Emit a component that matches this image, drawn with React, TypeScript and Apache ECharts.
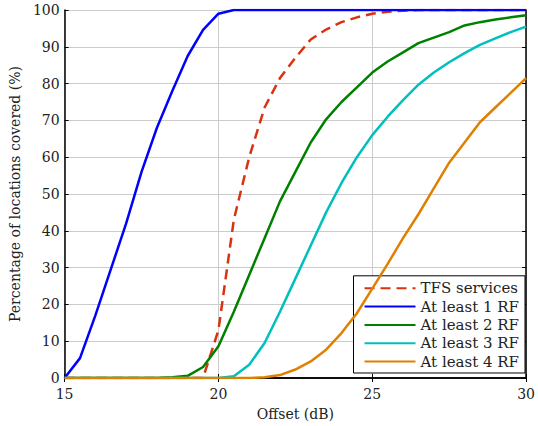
import React, { useEffect, useRef } from "react";
import * as echarts from "echarts";

const offsets = [15, 15.5, 16, 16.5, 17, 17.5, 18, 18.5, 19, 19.5, 20, 20.5, 21, 21.5, 22, 22.5, 23, 23.5, 24, 24.5, 25, 25.5, 26, 26.5, 27, 27.5, 28, 28.5, 29, 29.5, 30];

const tfsServices = [0, 0, 0, 0, 0, 0, 0, 0, 0, 0, 13, 43, 60, 73.5, 81.5, 87, 92, 94.7, 96.7, 98, 99, 99.5, 99.8, 100, 100, 100, 100, 100, 100, 100, 100];
const atLeast1 = [0, 5.4, 17, 29.5, 42, 56, 68, 78, 87.5, 94.6, 99, 100, 100, 100, 100, 100, 100, 100, 100, 100, 100, 100, 100, 100, 100, 100, 100, 100, 100, 100, 100];
const atLeast2 = [0, 0, 0, 0, 0, 0, 0, 0.2, 0.6, 3, 8.6, 18, 28, 38, 48, 56, 64, 70.3, 75, 79, 83, 86, 88.5, 91, 92.5, 94, 95.8, 96.7, 97.4, 98, 98.6];
const atLeast3 = [0, 0, 0, 0, 0, 0, 0, 0, 0, 0, 0, 0.5, 3.6, 9.5, 18, 27, 36, 45, 53, 60, 66, 71, 75.5, 79.7, 83, 85.8, 88.3, 90.5, 92.3, 94, 95.5];
const atLeast4 = [0, 0, 0, 0, 0, 0, 0, 0, 0, 0, 0, 0, 0, 0.2, 0.8, 2.3, 4.5, 7.7, 12.2, 17.6, 24.3, 31, 38, 44.5, 51.5, 58.5, 64, 69.5, 73.5, 77.5, 81.5];

const seriesNames = ["TFS services", "At least 1 RF", "At least 2 RF", "At least 3 RF", "At least 4 RF"];
const seriesColors = ["#d93210", "#0000ff", "#008000", "#00bfbf", "#e08000"];
const seriesData = [tfsServices, atLeast1, atLeast2, atLeast3, atLeast4];

const FONT = "'DejaVu Serif', serif";

export default function App() {
  const ref = useRef<HTMLDivElement>(null);
  useEffect(() => {
    if (!ref.current) return;
    const chart = echarts.init(ref.current, undefined, { renderer: "svg" });
    const series = seriesData.map((d, i) => ({
      name: seriesNames[i],
      type: "line",
      data: offsets.map((x, j) => [x, d[j]]),
      symbol: "none",
      showSymbol: false,
      color: seriesColors[i],
      lineStyle: {
        color: seriesColors[i],
        width: 2.5,
        type: i === 0 ? [10, 6] : "solid",
      },
      xAxisIndex: 0,
      yAxisIndex: 0,
      z: 2 + i,
    }));
    chart.setOption({
      animation: false,
      backgroundColor: "#ffffff",
      textStyle: { fontFamily: FONT },
      grid: { left: 62, right: 6, top: 10, bottom: 46, containLabel: false },
      legend: {
        orient: "vertical",
        right: 13,
        bottom: 53,
        backgroundColor: "#ffffff",
        borderColor: "#000000",
        borderWidth: 1,
        borderRadius: 0,
        padding: [5, 6, 4, 10],
        itemWidth: 51,
        itemHeight: 15,
        itemGap: 3.3,
        itemStyle: { opacity: 0 },
        textStyle: { fontFamily: FONT, fontSize: 15, lineHeight: 15, color: "#222" },
        data: seriesNames,
      },
      xAxis: [
        {
          type: "value",
          min: 15,
          max: 30,
          interval: 5,
          name: "Offset (dB)",
          nameLocation: "middle",
          nameGap: 29,
          nameTextStyle: { fontFamily: FONT, fontSize: 14, color: "#222" },
          axisLine: { show: true, lineStyle: { color: "#000", width: 1.5 } },
          axisTick: { show: true, inside: true, length: 4, lineStyle: { color: "#000" } },
          axisLabel: { fontFamily: FONT, fontSize: 14, color: "#222", margin: 9 },
          splitLine: { show: true, lineStyle: { color: "#cccccc", width: 1 } },
        },
        {
          type: "value",
          position: "top",
          min: 15,
          max: 30,
          interval: 5,
          axisLine: { show: true, lineStyle: { color: "#000", width: 1.5 } },
          axisTick: { show: true, inside: true, length: 4, lineStyle: { color: "#000" } },
          axisLabel: { show: false },
          splitLine: { show: false },
        },
      ],
      yAxis: [
        {
          type: "value",
          min: 0,
          max: 100,
          interval: 10,
          name: "Percentage of locations covered (%)",
          nameLocation: "middle",
          nameGap: 38,
          nameTextStyle: { fontFamily: FONT, fontSize: 14, color: "#222" },
          axisLine: { show: true, lineStyle: { color: "#000", width: 1.5 } },
          axisTick: { show: true, inside: true, length: 4, lineStyle: { color: "#000" } },
          axisLabel: { fontFamily: FONT, fontSize: 14, color: "#222", margin: 5 },
          splitLine: { show: true, lineStyle: { color: "#cccccc", width: 1 } },
        },
        {
          type: "value",
          position: "right",
          min: 0,
          max: 100,
          interval: 10,
          axisLine: { show: true, lineStyle: { color: "#000", width: 1.5 } },
          axisTick: { show: true, inside: true, length: 4, lineStyle: { color: "#000" } },
          axisLabel: { show: false },
          splitLine: { show: false },
        },
      ],
      series,
    });
    return () => chart.dispose();
  }, []);
  return <div ref={ref} style={{ width: 538, height: 426, position: "absolute", left: 0, top: 0 }} />;
}
